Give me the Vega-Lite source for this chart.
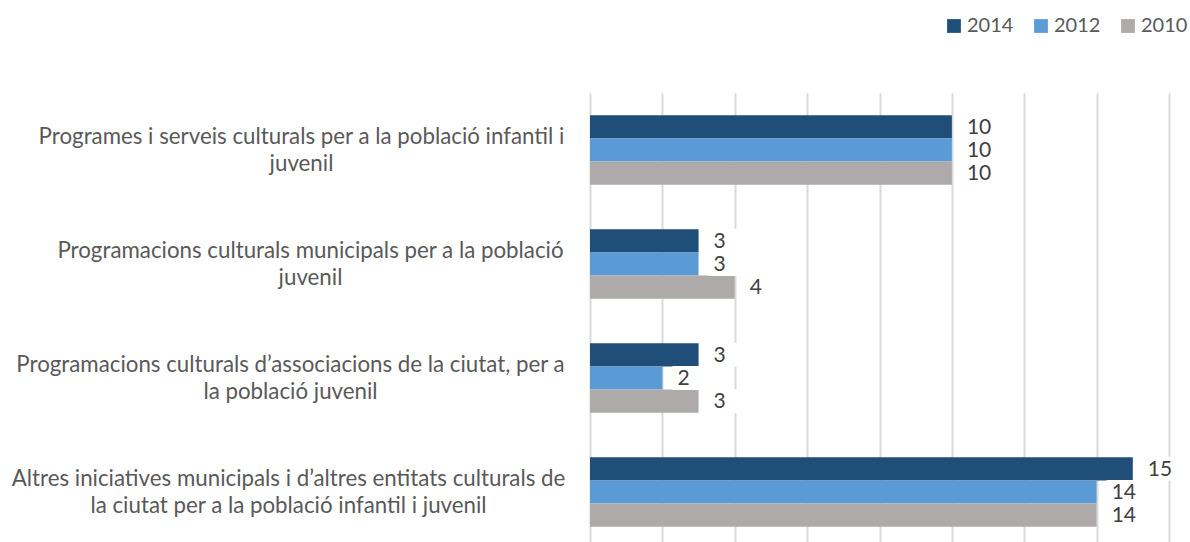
{
  "$schema": "https://vega.github.io/schema/vega-lite/v6.json",
  "width": 579,
  "height": 456,
  "autosize": {"type": "none"},
  "padding": {"left": 590, "top": 93, "right": 21, "bottom": 0},
  "background": "white",
  "config": {"view": {"stroke": null}},
  "data": {
    "values": [
      {"cat": "Programes i serveis culturals per a la població infantil i|juvenil", "series": "2014", "value": 10},
      {"cat": "Programes i serveis culturals per a la població infantil i|juvenil", "series": "2012", "value": 10},
      {"cat": "Programes i serveis culturals per a la població infantil i|juvenil", "series": "2010", "value": 10},
      {"cat": "Programacions culturals municipals per a la població|juvenil", "series": "2014", "value": 3},
      {"cat": "Programacions culturals municipals per a la població|juvenil", "series": "2012", "value": 3},
      {"cat": "Programacions culturals municipals per a la població|juvenil", "series": "2010", "value": 4},
      {"cat": "Programacions culturals d’associacions de la ciutat, per a|la població juvenil", "series": "2014", "value": 3},
      {"cat": "Programacions culturals d’associacions de la ciutat, per a|la població juvenil", "series": "2012", "value": 2},
      {"cat": "Programacions culturals d’associacions de la ciutat, per a|la població juvenil", "series": "2010", "value": 3},
      {"cat": "Altres iniciatives municipals i d’altres entitats culturals de|la ciutat per a la població infantil i juvenil", "series": "2014", "value": 15},
      {"cat": "Altres iniciatives municipals i d’altres entitats culturals de|la ciutat per a la població infantil i juvenil", "series": "2012", "value": 14},
      {"cat": "Altres iniciatives municipals i d’altres entitats culturals de|la ciutat per a la població infantil i juvenil", "series": "2010", "value": 14}
    ]
  },
  "encoding": {
    "y": {
      "field": "cat", "type": "nominal", "sort": null,
      "scale": {"paddingInner": 0.39, "paddingOuter": 0.195},
      "axis": {
        "title": null, "labelExpr": "split(datum.label, '|')",
        "labelAlign": "center",
        "labelPadding": {
          "condition": [
            {"test": "indexof(datum.value, 'municipals per') >= 0", "value": 280},
            {"test": "indexof(datum.value, 'associacions') >= 0", "value": 300},
            {"test": "indexof(datum.value, 'Altres') >= 0", "value": 302}
          ],
          "value": 289
        },
        "labelOffset": -13, "ticks": false, "domain": false,
        "labelFont": "Lato", "labelFontSize": 22.3, "labelColor": "#595959",
        "labelLineHeight": 27, "labelLimit": 700
      }
    },
    "yOffset": {"field": "series", "type": "nominal", "sort": ["2014", "2012", "2010"]},
    "x": {
      "field": "value", "type": "quantitative", "scale": {"domain": [0, 16]},
      "axis": {
        "title": null, "labels": false, "ticks": false, "domain": false,
        "values": [0, 2, 4, 6, 8, 10, 12, 14, 16],
        "gridColor": "#d9d9d9", "gridWidth": 2
      }
    }
  },
  "layer": [
    {
      "mark": {"type": "bar"},
      "encoding": {
        "color": {
          "field": "series", "type": "nominal",
          "sort": ["2014", "2012", "2010"],
          "scale": {"domain": ["2014", "2012", "2010"], "range": ["#1F4E79", "#5B9BD5", "#AEAAAA"]},
          "legend": {
            "title": null, "orient": "none", "legendX": 354, "legendY": -77,
            "direction": "horizontal", "symbolType": "square", "symbolSize": 190,
            "symbolStrokeWidth": 0, "labelFont": "Lato", "labelFontSize": 20,
            "labelColor": "#595959", "columnPadding": 17, "labelOffset": 3
          }
        }
      }
    },
    {
      "mark": {"type": "point", "shape": "M-1.5,-1H1.5V1H-1.5Z", "filled": true, "color": "white", "opacity": 1, "strokeWidth": 0, "size": 576, "xOffset": 28},
      "encoding": {}
    },
    {
      "mark": {"type": "text", "align": "left", "baseline": "middle", "dx": 15, "dy": 1, "font": "Lato", "fontSize": 21, "color": "#404040"},
      "encoding": {"text": {"field": "value", "type": "quantitative"}}
    }
  ]
}
